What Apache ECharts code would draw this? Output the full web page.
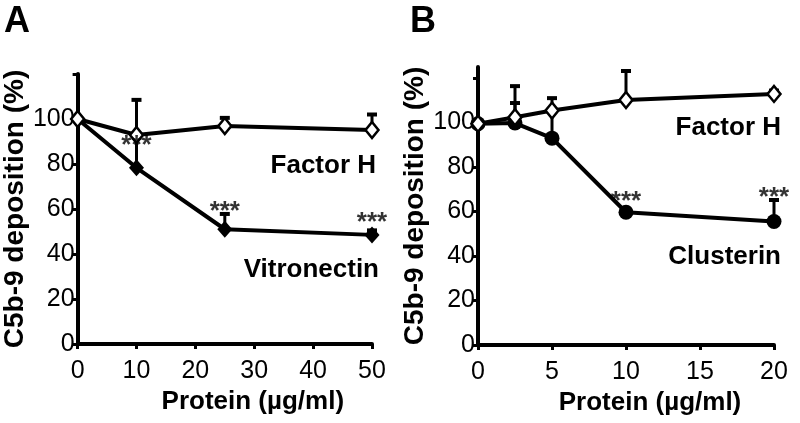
<!DOCTYPE html>
<html><head><meta charset="utf-8">
<script src="https://cdn.jsdelivr.net/npm/echarts@6/dist/echarts.min.js"></script>
<style>html,body{margin:0;padding:0;background:#fff}#c{width:800px;height:423px}</style>
</head><body><div id="c"></div>
<script>
// Panel A
var xA = [0, 10, 25, 50];
var factorHA = [100, 92.9, 96.9, 95.1];
var factorHAErr = [0, 15.6, 3.6, 6.9];
var vitronectinA = [100, 78.3, 51, 48.5];
var vitronectinAErr = [0, 14, 6.8, 2];
var starsA = [[10, 90.5], [25, 61], [50, 56]];
// Panel B
var xB = [0, 2.5, 5, 10, 20];
var factorHB = [99.5, 102.4, 105.4, 110.2, 112.9];
var factorHBErr = [0, 14, 5.6, 13, 1.5];
var clusterinB = [99.5, 99.8, 93, 59.7, 55.5];
var clusterinBErr = [0, 9, 12, 1.5, 9.7];
var starsB = [[10, 66.6], [20, 68.4]];
var yTicks = [0, 20, 40, 60, 80, 100, 120];
var yLabels = [0, 20, 40, 60, 80, 100];

var FONT = 'Liberation Sans, Arial, sans-serif';
function pairs(xs, ys) { return xs.map(function (x, i) { return [x, ys[i]]; }); }
function errData(xs, ys, es) { return xs.map(function (x, i) { return [x, ys[i], es[i]]; }); }

function errSeries(idx, data) {
  return {
    type: 'custom', xAxisIndex: idx, yAxisIndex: idx, z: 1, silent: true,
    renderItem: function (params, api) {
      var x = api.value(0), y = api.value(1), e = api.value(2);
      if (!e) return null;
      var p0 = api.coord([x, y]), p1 = api.coord([x, y + e]);
      var st = { stroke: '#000', lineWidth: 3 };
      return { type: 'group', children: [
        { type: 'line', shape: { x1: p0[0], y1: p0[1], x2: p1[0], y2: p1[1] }, style: st },
        { type: 'line', shape: { x1: p1[0] - 5, y1: p1[1], x2: p1[0] + 5, y2: p1[1] }, style: { stroke: '#000', lineWidth: 4 } }
      ]};
    },
    data: data
  };
}
function lineSeries(idx, data, symbol, size, fill) {
  return {
    type: 'line', xAxisIndex: idx, yAxisIndex: idx, z: 3, data: data,
    symbol: symbol, symbolSize: size, showAllSymbol: true,
    lineStyle: { color: '#000', width: 4 },
    itemStyle: { color: fill, borderColor: '#000', borderWidth: fill === '#fff' ? 2.5 : 0 },
    emphasis: { disabled: true }, animation: false
  };
}
function starSeries(idx, data) {
  return {
    type: 'scatter', xAxisIndex: idx, yAxisIndex: idx, z: 5, data: data,
    symbol: 'circle', symbolSize: 2, silent: true,
    itemStyle: { color: 'rgba(0,0,0,0)' },
    label: { show: true, position: 'inside', formatter: '***', color: '#000',
      textBorderWidth: 0, fontFamily: FONT, fontWeight: 'bold', fontSize: 26, offset: [0, 5] }
  };
}
function xAxisCfg(idx, max, interval, pad) {
  return {
    gridIndex: idx, type: 'value', min: 0, max: max, interval: interval,
    name: 'Protein (µg/ml)', nameLocation: 'middle', nameGap: 45,
    nameTextStyle: { fontFamily: FONT, fontWeight: 'bold', fontSize: 26, color: '#000', padding: [0, 0, 0, pad] },
    axisLine: { lineStyle: { color: '#000', width: 4 } },
    axisTick: { show: true, inside: false, length: 5, lineStyle: { color: '#000', width: 3 } },
    axisLabel: { fontFamily: FONT, fontSize: 25, color: '#000', margin: 15 },
    splitLine: { show: false }
  };
}
function yAxisCfg(idx, max) {
  return {
    gridIndex: idx, type: 'value', min: 0, max: max, interval: 20,
    name: 'C5b-9 deposition (%)', nameLocation: 'middle', nameGap: 40,
    nameTextStyle: { fontFamily: FONT, fontWeight: 'bold', fontSize: 28, color: '#000' },
    axisLine: { lineStyle: { color: '#000', width: 4 } },
    axisTick: { show: true, inside: false, length: 5, lineStyle: { color: '#000', width: 3 }, customValues: yTicks },
    axisLabel: { fontFamily: FONT, fontSize: 25, color: '#000', margin: 3, customValues: yLabels },
    splitLine: { show: false }
  };
}

var chart = echarts.init(document.getElementById('c'), null, { renderer: 'canvas' });
chart.setOption({
  backgroundColor: '#fff',
  animation: false,
  grid: [
    { left: 73, top: 74, width: 299, height: 270 },
    { left: 478, top: 67, width: 296, height: 278 }
  ],
  xAxis: [xAxisCfg(0, 50, 10, 56), xAxisCfg(1, 20, 5, 48)],
  yAxis: [yAxisCfg(0, 120), yAxisCfg(1, 125)],
  series: [
    errSeries(0, errData(xA, factorHA, factorHAErr)),
    errSeries(0, errData(xA, vitronectinA, vitronectinAErr)),
    lineSeries(0, pairs(xA, vitronectinA), 'diamond', [15, 17], '#000'),
    lineSeries(0, pairs(xA, factorHA), 'diamond', [13, 16], '#fff'),
    starSeries(0, starsA),
    errSeries(1, errData(xB, factorHB, factorHBErr)),
    errSeries(1, errData(xB, clusterinB, clusterinBErr)),
    lineSeries(1, pairs(xB, clusterinB), 'circle', 15, '#000'),
    lineSeries(1, pairs(xB, factorHB), 'diamond', [13, 16], '#fff'),
    starSeries(1, starsB)
  ],
  graphic: [
    { type: 'text', style: { x: 4, y: 22, text: 'A', fontFamily: FONT, fontWeight: 'bold', fontSize: 36, fill: '#000', textVerticalAlign: 'middle' } },
    { type: 'text', style: { x: 410, y: 22, text: 'B', fontFamily: FONT, fontWeight: 'bold', fontSize: 36, fill: '#000', textVerticalAlign: 'middle' } },
    { type: 'text', style: { x: 376, y: 166, text: 'Factor H', fontFamily: FONT, fontWeight: 'bold', fontSize: 26, fill: '#000', textAlign: 'right', textVerticalAlign: 'middle' } },
    { type: 'text', style: { x: 379, y: 270, text: 'Vitronectin', fontFamily: FONT, fontWeight: 'bold', fontSize: 26, fill: '#000', textAlign: 'right', textVerticalAlign: 'middle' } },
    { type: 'text', style: { x: 781, y: 128, text: 'Factor H', fontFamily: FONT, fontWeight: 'bold', fontSize: 26, fill: '#000', textAlign: 'right', textVerticalAlign: 'middle' } },
    { type: 'text', style: { x: 781, y: 257, text: 'Clusterin', fontFamily: FONT, fontWeight: 'bold', fontSize: 26, fill: '#000', textAlign: 'right', textVerticalAlign: 'middle' } }
  ]
});
</script></body></html>
